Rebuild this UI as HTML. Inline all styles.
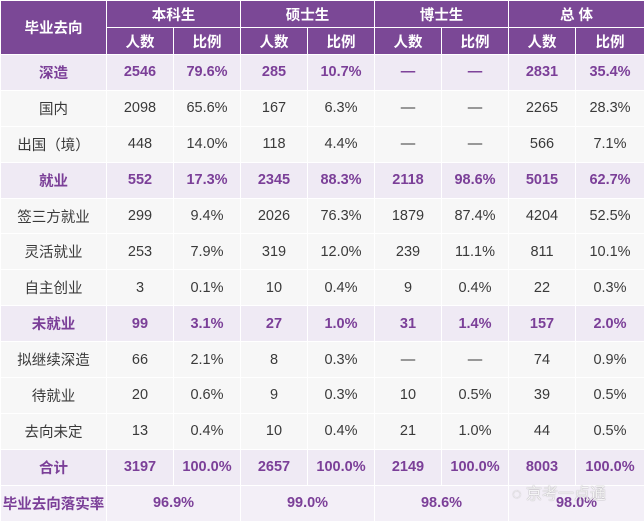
<!DOCTYPE html>
<html><head><meta charset="utf-8"><style>
body{margin:0;width:644px;height:520px;overflow:hidden;background:#fff;font-family:"Liberation Sans","Noto Sans CJK SC",sans-serif;position:relative;}
table{border-collapse:collapse;table-layout:fixed;width:644px;}
td{border:1.5px solid #fff;text-align:center;font-size:14.5px;color:#3a3a3a;padding:0;}
tr{height:35.9px;}
tr.h{height:27px;}
.h td{background:#7b4896;color:#fff;font-weight:bold;font-size:14.5px;}
.b td{background:#efeaf4;color:#7b3f98;font-weight:bold;}
.n td{background:#f7f7f7;}
.l td{background:#f3eff7;color:#7b3f98;font-weight:bold;}
</style></head><body>
<table>
<colgroup><col style="width:106px"><col style="width:67px"><col style="width:67px"><col style="width:67px"><col style="width:67px"><col style="width:67px"><col style="width:67px"><col style="width:67px"><col style="width:69px"></colgroup>
<tr class="h"><td rowspan="2">毕业去向</td><td colspan="2">本科生</td><td colspan="2">硕士生</td><td colspan="2">博士生</td><td colspan="2">总 体</td></tr>
<tr class="h"><td>人数</td><td>比例</td><td>人数</td><td>比例</td><td>人数</td><td>比例</td><td>人数</td><td>比例</td></tr>
<tr class="b"><td>深造</td><td>2546</td><td>79.6%</td><td>285</td><td>10.7%</td><td>—</td><td>—</td><td>2831</td><td>35.4%</td></tr>
<tr class="n"><td>国内</td><td>2098</td><td>65.6%</td><td>167</td><td>6.3%</td><td>—</td><td>—</td><td>2265</td><td>28.3%</td></tr>
<tr class="n"><td>出国（境）</td><td>448</td><td>14.0%</td><td>118</td><td>4.4%</td><td>—</td><td>—</td><td>566</td><td>7.1%</td></tr>
<tr class="b"><td>就业</td><td>552</td><td>17.3%</td><td>2345</td><td>88.3%</td><td>2118</td><td>98.6%</td><td>5015</td><td>62.7%</td></tr>
<tr class="n"><td>签三方就业</td><td>299</td><td>9.4%</td><td>2026</td><td>76.3%</td><td>1879</td><td>87.4%</td><td>4204</td><td>52.5%</td></tr>
<tr class="n"><td>灵活就业</td><td>253</td><td>7.9%</td><td>319</td><td>12.0%</td><td>239</td><td>11.1%</td><td>811</td><td>10.1%</td></tr>
<tr class="n"><td>自主创业</td><td>3</td><td>0.1%</td><td>10</td><td>0.4%</td><td>9</td><td>0.4%</td><td>22</td><td>0.3%</td></tr>
<tr class="b"><td>未就业</td><td>99</td><td>3.1%</td><td>27</td><td>1.0%</td><td>31</td><td>1.4%</td><td>157</td><td>2.0%</td></tr>
<tr class="n"><td>拟继续深造</td><td>66</td><td>2.1%</td><td>8</td><td>0.3%</td><td>—</td><td>—</td><td>74</td><td>0.9%</td></tr>
<tr class="n"><td>待就业</td><td>20</td><td>0.6%</td><td>9</td><td>0.3%</td><td>10</td><td>0.5%</td><td>39</td><td>0.5%</td></tr>
<tr class="n"><td>去向未定</td><td>13</td><td>0.4%</td><td>10</td><td>0.4%</td><td>21</td><td>1.0%</td><td>44</td><td>0.5%</td></tr>
<tr class="b"><td>合计</td><td>3197</td><td>100.0%</td><td>2657</td><td>100.0%</td><td>2149</td><td>100.0%</td><td>8003</td><td>100.0%</td></tr>
<tr class="l"><td>毕业去向落实率</td><td colspan="2">96.9%</td><td colspan="2">99.0%</td><td colspan="2">98.6%</td><td colspan="2">98.0%</td></tr>
</table>
<div style="position:absolute;left:512px;top:480px;font-size:16px;color:rgba(255,255,255,0.9);text-shadow:0 0 1px #777;">◌ 京考一点通</div>
</body></html>
